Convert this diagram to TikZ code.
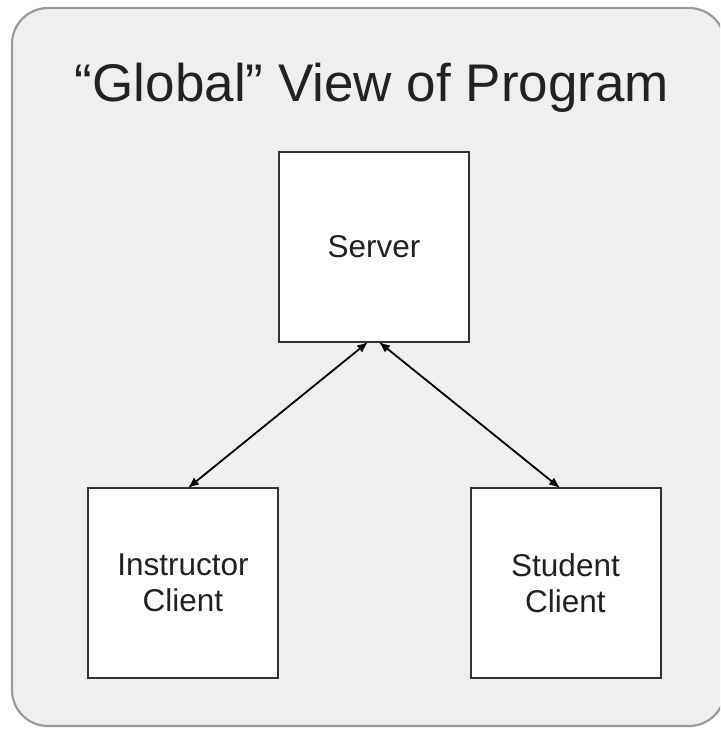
\documentclass[tikz,border=0pt]{standalone}
\usepackage{fontspec}
\setmainfont{Liberation Sans}
\usetikzlibrary{arrows.meta}
\definecolor{panelfill}{HTML}{EFEFEF}
\definecolor{panelline}{HTML}{9A9A9A}
\definecolor{boxline}{HTML}{333333}
\definecolor{txt}{HTML}{222222}
\begin{document}
\begin{tikzpicture}[x=1pt,y=-1pt,
  comp/.style={draw=boxline, line width=2pt, fill=white, minimum width=190pt, minimum height=190pt,
    inner sep=0pt, outer sep=0pt, font=\fontsize{31.5}{36}\selectfont, text=txt, align=center},
  link/.style={line width=1.8pt, {Latex[length=11pt,width=9pt]}-{Latex[length=11pt,width=9pt]}}]
\useasboundingbox (0,0) rectangle (720,730);
\begin{scope}
\clip (0,0) rectangle (720,730);
\draw[fill=panelfill, draw=panelline, line width=2.2pt, rounded corners=36pt] (12,8) rectangle (725,726);
\end{scope}
\node[font=\fontsize{53}{60}\selectfont, text=txt, anchor=base] (title) at (372,102) {“Global” View of Program};
\node[comp] (srv) at (374,247) {Server};
\node[comp] (ins) at (183,583) {Instructor\\Client};
\node[comp] (stu) at (565.5,583) {Student\\Client};
\draw[link] ([xshift=-6pt]srv.south) -- ([xshift=5pt]ins.north);
\draw[link] ([xshift=5pt]srv.south) -- ([xshift=-5.5pt]stu.north);
\end{tikzpicture}
\end{document}
